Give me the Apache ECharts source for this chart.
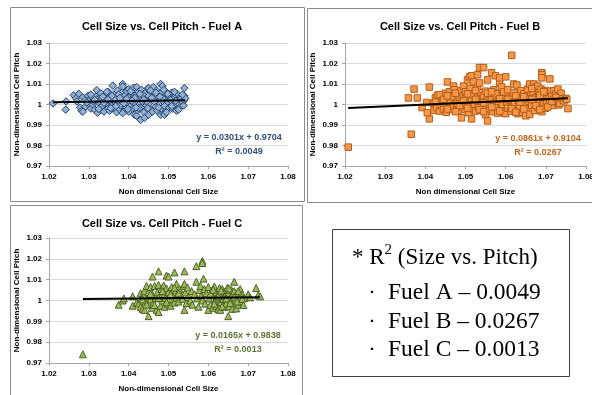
<!DOCTYPE html>
<html><head><meta charset="utf-8">
<script src="https://cdn.jsdelivr.net/npm/echarts@6/dist/echarts.min.js"></script>
<style>html,body{margin:0;padding:0;background:#fff}#c{width:592px;height:395px}</style>
</head><body><div id="c"></div>
<script>
// ---- data ----
var xTicks = [1.02, 1.03, 1.04, 1.05, 1.06, 1.07, 1.08];
var yTicks = [0.97, 0.98, 0.99, 1.00, 1.01, 1.02, 1.03];
var titles = ['Cell Size vs. Cell Pitch - Fuel A', 'Cell Size vs. Cell Pitch - Fuel B', 'Cell Size vs. Cell Pitch - Fuel C'];
var xNames = ['Non dimensional Cell Size', 'Non dimensional Cell Size', 'Non-dimensional Cell Size'];
var yName = 'Non-dimensional Cell Pitch';
var slopes = [0.0301, 0.0861, 0.0165];
var intercepts = [0.9704, 0.9104, 0.9838];
var r2 = ['0.0049', '0.0267', '0.0013'];

var fuelA = [
[1.021,1.0005],[1.0243,1.0015],[1.0242,0.9975],[1.0262,1.0045],[1.0268,1.003],[1.027,1.0015],[1.0275,1.0052],[1.0278,0.9985],[1.0282,0.997],[1.0285,0.9965],[1.0285,1.0035],[1.029,1.002],[1.0292,0.999],[1.0298,1.0042],[1.03,1.0005],[1.0302,1.0025],[1.0305,0.998],[1.0308,1.0035],[1.031,1.0],[1.0312,1.0015],[1.0315,0.9975],[1.0318,1.004],[1.032,1.007],[1.032,1.0025],[1.0322,0.996],[1.0325,1.001],[1.0328,0.9985],[1.033,1.0055],[1.0332,1.003],[1.0335,0.9995],[1.0338,0.9965],[1.034,1.002],[1.0342,1.0045],[1.0345,1.0005],[1.0348,0.998],[1.035,1.006],[1.035,1.0035],[1.0352,0.997],[1.0355,1.0015],[1.0358,0.9995],[1.036,1.0092],[1.036,1.0025],[1.0362,0.9985],[1.0365,1.005],[1.0368,1.0008],[1.037,0.9962],[1.037,1.0038],[1.0372,1.0068],[1.0375,1.0018],[1.0378,0.9975],[1.038,1.003],[1.038,0.9995],[1.0383,1.0058],[1.0385,1.01],[1.0385,1.0088],[1.0385,1.0012],[1.0388,0.997],[1.039,1.0042],[1.039,1.0022],[1.0392,0.9988],[1.0395,1.0065],[1.0398,1.0005],[1.04,1.0075],[1.04,1.0035],[1.04,0.9965],[1.0402,1.0015],[1.0405,0.9992],[1.0408,1.0052],[1.041,1.0028],[1.041,0.998],[1.0412,1.0082],[1.0415,0.995],[1.0415,1.0008],[1.0418,1.0045],[1.042,0.9945],[1.042,1.0085],[1.042,1.0022],[1.0422,0.9972],[1.0425,1.0062],[1.0428,1.0002],[1.043,0.9925],[1.043,1.0038],[1.043,0.9985],[1.0432,1.0072],[1.0435,1.0015],[1.0438,0.9962],[1.044,1.0055],[1.044,0.9935],[1.0442,1.0028],[1.0445,0.9995],[1.0448,1.0078],[1.045,1.008],[1.045,0.995],[1.045,1.0042],[1.0452,1.0008],[1.0455,0.9975],[1.0458,1.006],[1.046,1.0025],[1.046,0.9965],[1.0462,1.0085],[1.0465,1.0012],[1.0468,0.9988],[1.047,1.0048],[1.047,1.0068],[1.0472,0.997],[1.0475,1.003],[1.0478,1.0002],[1.048,1.01],[1.048,0.995],[1.048,1.0055],[1.0482,0.998],[1.0485,1.009],[1.0485,1.0018],[1.0488,0.9955],[1.049,0.995],[1.049,1.004],[1.049,0.9992],[1.0492,1.0065],[1.0495,1.0025],[1.0498,0.9975],[1.05,1.0045],[1.05,1.001],[1.0502,0.9985],[1.0505,1.0035],[1.0508,1.0058],[1.051,1.0015],[1.051,0.998],[1.0512,1.003],[1.0515,0.9995],[1.0518,1.0045],[1.052,0.997],[1.052,1.002],[1.0522,1.0052],[1.0525,1.0005],[1.0528,0.9985],[1.053,1.0038],[1.053,1.0025],[1.0535,1.0012],[1.0538,0.9995],[1.054,1.008],[1.054,1.0042],[1.054,1.0022],[1.0542,1.003],
[1.0295,1.001],[1.0305,1.0048],[1.0315,1.0022],[1.0325,0.9978],[1.0335,1.0038],[1.0345,1.0062],[1.0355,0.9982],[1.0365,1.0028],[1.0375,1.0048],[1.0385,0.9958],[1.0395,1.0028],[1.0405,1.0065],[1.0415,1.0032],[1.0425,0.9982],[1.0435,1.0048],[1.0445,1.0015],[1.0455,1.0068],[1.0465,1.0035],[1.0475,0.9985],[1.0485,1.0032],[1.0495,0.9962],[1.0505,1.0022],[1.0515,1.0062],[1.0525,0.9975],[1.0535,1.0048],[1.0338,1.0008],[1.0348,1.0025],[1.0358,1.0042],[1.0368,0.9992],[1.0378,1.0032],[1.0388,1.0005],[1.0398,0.9978],[1.0408,1.0018],[1.0418,0.9985],[1.0428,1.0052],[1.0438,1.0025],[1.0448,0.9982],[1.0458,1.0032],[1.0468,1.0058],[1.0478,1.0038],[1.0488,1.0072],[1.0498,1.0052],[1.0508,0.9992],[1.0518,1.0018]
];

var fuelB = [
[1.0208,0.9792],[1.0365,0.9855],[1.0372,1.0075],[1.0358,1.0032],[1.038,1.0032],[1.041,1.0085],[1.041,0.993],[1.0392,0.9985],[1.0403,1.001],[1.0405,0.996],
[1.042,1.0005],[1.0422,0.9972],[1.0425,1.0032],[1.0428,0.9985],[1.043,1.0045],[1.0432,1.0015],[1.0435,0.9968],[1.0438,1.0028],[1.044,0.9995],[1.0442,1.0038],[1.0445,0.9978],[1.0448,1.0008],[1.045,1.0055],[1.0452,0.9962],[1.0455,1.011],[1.0455,1.0022],[1.0458,0.9988],[1.046,1.0062],[1.0462,1.0012],[1.0465,0.9975],[1.0468,1.0042],[1.047,1.009],[1.047,0.9995],[1.0472,1.0072],[1.0475,1.0028],[1.0478,0.9982],[1.048,1.0052],[1.048,1.0005],[1.0482,0.997],[1.0485,1.0035],[1.0488,1.0068],[1.049,0.9935],[1.049,1.0015],[1.0492,0.9988],[1.0495,1.009],[1.0495,1.0045],[1.0498,0.9975],[1.05,1.0028],[1.05,1.0062],[1.0502,0.9992],[1.0505,1.012],[1.0505,1.0038],[1.0508,0.996],[1.051,1.0135],[1.051,1.0008],[1.0512,1.0078],[1.0515,1.014],[1.0515,0.993],[1.0515,1.0022],[1.0518,0.998],[1.052,1.011],[1.052,1.0052],[1.0522,1.0002],[1.0525,0.9968],[1.0528,1.0035],[1.053,1.0145],[1.053,1.0085],[1.0532,0.9985],[1.0535,1.0105],[1.0535,1.0018],[1.0535,1.018],[1.0538,1.0058],[1.054,0.9972],[1.0542,1.0028],[1.0545,1.018],[1.0545,1.0042],[1.0548,0.9992],[1.055,1.0065],[1.055,0.995],[1.0552,1.0012],[1.0555,0.992],[1.0555,1.012],[1.0555,1.0035],[1.0558,0.9978],[1.056,1.0048],[1.056,1.0002],[1.0565,1.0155],[1.0565,1.0022],[1.0568,0.9965],[1.057,1.0072],[1.0572,1.0008],[1.0575,1.014],[1.0575,0.9985],[1.0578,1.0038],[1.058,1.0055],[1.058,0.9958],[1.0582,1.0015],[1.0585,1.0105],[1.0585,1.013],[1.0588,0.9975],[1.059,1.0042],[1.059,1.0085],[1.0592,1.0],[1.0595,0.996],[1.0598,1.0028],[1.06,1.0135],[1.06,0.9955],[1.06,1.0062],[1.0602,1.0012],[1.0605,0.9982],[1.0608,1.0048],[1.061,1.0022],[1.0612,0.9968],[1.0615,1.024],[1.0615,1.0035],[1.0618,0.9992],[1.062,1.01],[1.062,1.0058],[1.0622,1.0005],[1.0625,0.9972],[1.0628,1.0095],[1.063,0.9955],[1.063,1.0042],[1.0632,1.0018],[1.0635,0.9985],[1.0638,1.0068],[1.064,1.0028],[1.0642,0.9962],[1.0645,1.0052],[1.0648,1.0008],[1.065,0.9945],[1.065,1.0035],[1.0652,0.9978],[1.0655,1.0075],[1.0658,1.0015],[1.066,1.01],[1.066,0.9952],[1.0662,1.0045],[1.0665,0.9995],[1.0668,1.0062],[1.067,1.01],[1.067,1.0022],[1.0672,0.997],[1.0675,1.0085],[1.0678,1.0038],[1.068,1.009],[1.068,0.9988],[1.0682,1.0055],[1.0685,1.0012],[1.0688,1.0075],[1.069,1.0155],[1.069,1.0145],[1.069,1.013],[1.069,0.9965],[1.0692,1.0035],[1.0695,1.0002],[1.0698,1.0068],[1.07,1.0048],[1.07,0.9982],[1.0702,1.0018],[1.0705,1.0058],[1.0708,1.003],[1.071,1.0125],[1.071,1.0008],[1.0712,1.0065],[1.0715,1.0042],[1.0718,0.9995],[1.072,1.0068],[1.072,1.0025],[1.0725,1.0052],[1.0728,1.0012],[1.073,1.0075],[1.073,1.0035],[1.0732,0.9998],[1.0735,1.0005],[1.0738,1.0055],[1.074,1.0028],[1.0745,1.0018],[1.075,1.003],[1.0752,1.0025],[1.0755,0.998],
[1.0425,1.0012],[1.0435,1.0048],[1.0445,1.0025],[1.0455,0.9978],[1.0465,1.0038],[1.0475,1.0055],[1.0485,0.9995],[1.0495,1.0018],[1.0505,0.9982],[1.0515,1.0048],[1.0525,1.0025],[1.0535,0.9975],[1.0545,1.0008],[1.0555,1.0055],[1.0565,0.9988],[1.0575,1.0052],[1.0585,1.0028],[1.0595,1.0062],[1.0605,1.0025],[1.0615,0.998],[1.0625,1.0042],[1.0635,1.0012],[1.0645,0.9978],[1.0655,1.0028],[1.0665,1.0078],[1.0675,0.9995],[1.0685,1.0045],[1.0695,1.0062],[1.0705,0.9988],[1.0715,1.0015],[1.0725,1.0035],[1.0455,1.0042],[1.0475,0.9965],[1.0505,1.0052],[1.0525,1.0068],[1.0545,0.9965],[1.0565,1.0062],[1.0585,0.9968],[1.0605,1.0072],[1.0625,0.9962],[1.0645,1.0038],[1.0665,1.0025],[1.0685,0.9975]
];

var fuelC = [
[1.0285,0.9742],[1.0375,0.998],[1.0385,1.0],[1.0388,1.001],[1.041,0.9975],[1.041,1.002],[1.042,0.999],[1.0425,0.9985],[1.043,1.0035],[1.043,0.997],[1.0432,1.001],[1.0435,0.996],[1.0438,1.0025],[1.044,0.9955],[1.044,1.0045],[1.0442,0.9995],[1.0445,1.007],[1.0448,1.0015],[1.045,0.9925],[1.045,1.004],[1.045,0.998],[1.0455,1.0065],[1.0455,1.0005],[1.0458,0.9965],[1.046,1.0115],[1.046,1.0028],[1.0462,0.9985],[1.0465,1.007],[1.0468,1.001],[1.047,0.9955],[1.0472,1.004],[1.0475,1.014],[1.0475,0.9945],[1.0475,1.0075],[1.0478,1.002],[1.048,0.9975],[1.0482,1.0055],[1.0485,1.0],[1.0488,1.0072],[1.049,0.997],[1.049,1.003],[1.0492,1.0012],[1.0495,1.012],[1.0495,1.0058],[1.0498,0.9985],[1.05,1.0115],[1.05,1.004],[1.0502,1.0008],[1.0505,0.9975],[1.0508,1.0065],[1.051,1.0025],[1.0515,1.0135],[1.0515,0.999],[1.0518,1.0048],[1.052,1.008],[1.052,1.0015],[1.0525,0.9995],[1.0528,1.0055],[1.053,1.003],[1.0535,1.0008],[1.0538,1.007],[1.054,1.014],[1.054,0.9955],[1.054,1.008],[1.0542,1.0038],[1.0545,0.9988],[1.0548,1.0062],[1.055,1.0018],[1.0555,1.0],[1.0558,1.0045],[1.056,0.998],[1.0565,1.003],[1.057,1.0165],[1.057,1.009],[1.0572,1.001],[1.0575,0.997],[1.0578,1.005],[1.058,1.007],[1.0582,1.0022],[1.0585,1.019],[1.0585,1.018],[1.0585,1.0],[1.0588,1.0105],[1.059,1.0055],[1.0592,0.9985],[1.0595,1.0035],[1.06,0.9955],[1.06,1.0065],[1.0602,1.001],[1.0605,0.998],[1.0608,1.0045],[1.061,1.0025],[1.0612,0.9965],[1.0615,1.0068],[1.0618,1.0005],[1.062,0.9975],[1.062,1.004],[1.0622,1.0015],[1.0625,0.9958],[1.0628,1.006],[1.063,0.9955],[1.063,1.003],[1.0632,0.9992],[1.0635,1.0055],[1.0638,1.0008],[1.064,0.997],[1.064,1.0042],[1.0642,1.0022],[1.0645,0.9985],[1.0648,1.0062],[1.065,0.9925],[1.065,1.0035],[1.0652,0.9972],[1.0655,1.0012],[1.0658,1.005],[1.066,0.996],[1.066,1.0028],[1.0662,0.999],[1.0665,1.009],[1.0665,1.0045],[1.0668,1.0005],[1.067,0.9962],[1.0672,1.0035],[1.0675,0.998],[1.0678,1.0018],[1.068,1.0055],[1.0682,0.9995],[1.0685,1.003],[1.0688,0.9978],[1.069,1.0012],[1.07,1.003],[1.0705,1.0015],[1.072,1.006],[1.0725,1.0025],[1.073,1.002],
[1.0435,1.0005],[1.0445,0.998],[1.0455,1.0032],[1.0465,0.9978],[1.0475,1.0012],[1.0485,1.0045],[1.0495,0.9992],[1.0505,1.003],[1.0515,1.0062],[1.0525,1.0035],[1.0605,1.0032],[1.0615,0.9985],[1.0625,1.0022],[1.0635,0.9972],[1.0645,1.001],[1.0655,0.9988],[1.0665,1.0018],[1.0675,1.0045],[1.0685,1.0008],[1.0612,1.0052],[1.0632,1.0048],[1.0652,1.0058],[1.0672,0.9995]
];

// ---- styling / layout ----
var FONT = 'Liberation Sans';
var datasets = [fuelA, fuelB, fuelC];
var markerStyles = [
  {symbol: 'diamond', size: 7.5, color: '#93afd3', border: '#22426b'},
  {symbol: 'rect', size: 6.5, color: '#f79646', border: '#b25f1c'},
  {symbol: 'triangle', size: 7, color: '#9bbb59', border: '#4f6228'}
];
var eqColors = ['#2c4f7c', '#c4641c', '#5b7330'];
var grids = [
  {left: 49, top: 43, width: 239, height: 123},
  {left: 345, top: 43, width: 241, height: 123},
  {left: 49, top: 238, width: 239, height: 125}
];
var panels = [[10, 7, 294, 194], [307, 8, 290, 194], [10, 205, 292, 192]];
var eqPos = [[239, 138], [538, 139], [238, 336]];

function trend(i) {
  var xs = datasets[i].map(function (p) { return p[0]; });
  var x0 = Math.min.apply(null, xs), x1 = Math.max.apply(null, xs);
  return [[x0, slopes[i] * x0 + intercepts[i]], [x1, slopes[i] * x1 + intercepts[i]]];
}

var option = {
  animation: false,
  backgroundColor: '#fff',
  title: titles.map(function (t, i) {
    var cx = [157, 455, 157][i], cy = [16, 16, 213][i];
    return {text: t, left: cx, top: cy, textAlign: 'center',
      textStyle: {fontFamily: FONT, fontSize: 11, fontWeight: 'bold', color: '#000'}};
  }),
  grid: grids.map(function (g) { return Object.assign({outerBoundsMode: 'none', containLabel: false}, g); }),
  xAxis: grids.map(function (g, i) {
    return {type: 'value', gridIndex: i, min: xTicks[0], max: xTicks[xTicks.length - 1], interval: 0.01,
      name: xNames[i], nameLocation: 'middle', nameGap: 22,
      nameTextStyle: {fontFamily: FONT, fontSize: 8, fontWeight: 'bold', color: '#000'},
      axisLine: {show: true, onZero: false, lineStyle: {color: '#a6a6a6', width: 1}},
      axisTick: {show: true, length: 3, lineStyle: {color: '#a6a6a6'}},
      splitLine: {show: false},
      axisLabel: {fontFamily: FONT, fontSize: 8, fontWeight: 'bold', color: '#000', margin: 7,
        formatter: function (v) { return (+v.toFixed(2)).toString(); }}
    };
  }),
  yAxis: grids.map(function (g, i) {
    return {type: 'value', gridIndex: i, min: yTicks[0], max: yTicks[yTicks.length - 1], interval: 0.01,
      name: yName, nameLocation: 'middle', nameGap: 28, nameRotate: 90,
      nameTextStyle: {fontFamily: FONT, fontSize: 8, fontWeight: 'bold', color: '#000'},
      axisLine: {show: true, onZero: false, lineStyle: {color: '#a6a6a6', width: 1}},
      axisTick: {show: true, length: 3, lineStyle: {color: '#a6a6a6'}},
      splitLine: {show: true, lineStyle: {color: '#d9d9d9', width: 1}},
      axisLabel: {fontFamily: FONT, fontSize: 8, fontWeight: 'bold', color: '#000', margin: 7,
        formatter: function (v) { return (+v.toFixed(2)).toString(); }}
    };
  }),
  series: [],
  graphic: []
};

datasets.forEach(function (d, i) {
  var m = markerStyles[i];
  option.series.push({type: 'scatter', xAxisIndex: i, yAxisIndex: i, data: d,
    symbol: m.symbol, symbolSize: m.size,
    itemStyle: {color: m.color, borderColor: m.border, borderWidth: 1, opacity: 1}, z: 2});
  option.series.push({type: 'line', xAxisIndex: i, yAxisIndex: i, data: trend(i),
    symbol: 'none', lineStyle: {color: '#000', width: 2}, z: 3, silent: true});
});

panels.forEach(function (p) {
  option.graphic.push({type: 'rect', shape: {x: p[0] + 0.5, y: p[1] + 0.5, width: p[2], height: p[3]},
    style: {fill: 'none', stroke: '#8c8c8c', lineWidth: 1}, z: 0, silent: true});
});

eqPos.forEach(function (p, i) {
  var s = intercepts[i] >= 0 ? ' + ' : ' - ';
  option.graphic.push({type: 'text', x: p[0], y: p[1],
    style: {text: 'y = ' + slopes[i].toFixed(4) + 'x' + s + intercepts[i].toFixed(4),
      fontFamily: FONT, fontSize: 9, fontWeight: 'bold', fill: eqColors[i], textAlign: 'center', textVerticalAlign: 'middle'}, z: 10});
  option.graphic.push({type: 'text', x: p[0], y: p[1] + 14,
    style: {text: 'R² = ' + r2[i], fontFamily: FONT, fontSize: 9, fontWeight: 'bold', fill: eqColors[i], textAlign: 'center', textVerticalAlign: 'middle'}, z: 10});
});

// text box
var SERIF = 'Liberation Serif';
option.graphic.push({type: 'rect', shape: {x: 332.5, y: 229.5, width: 237, height: 147},
  style: {fill: '#fff', stroke: '#404040', lineWidth: 1}, z: 5});
option.graphic.push({type: 'text', x: 352, y: 256, z: 6,
  style: {text: '{a|* R}{s|2}{a| (Size vs. Pitch)}', textVerticalAlign: 'middle',
    rich: {a: {fontFamily: SERIF, fontSize: 23, fill: '#000', verticalAlign: 'bottom', lineHeight: 27},
           s: {fontFamily: SERIF, fontSize: 15, fill: '#000', verticalAlign: 'top', lineHeight: 27}}}});
['A', 'B', 'C'].forEach(function (f, i) {
  var y = [293, 322, 350][i];
  option.graphic.push({type: 'text', x: 372, y: y, z: 6,
    style: {text: '·', fontFamily: SERIF, fontSize: 22, fill: '#000', textAlign: 'center', textVerticalAlign: 'middle'}});
  option.graphic.push({type: 'text', x: 388, y: y, z: 6,
    style: {text: 'Fuel ' + f + ' – ' + r2[i], fontFamily: SERIF, fontSize: 23.5, fill: '#000', textVerticalAlign: 'middle'}});
});

var chart = echarts.init(document.getElementById('c'), null, {renderer: 'canvas'});
chart.setOption(option);
</script></body></html>
